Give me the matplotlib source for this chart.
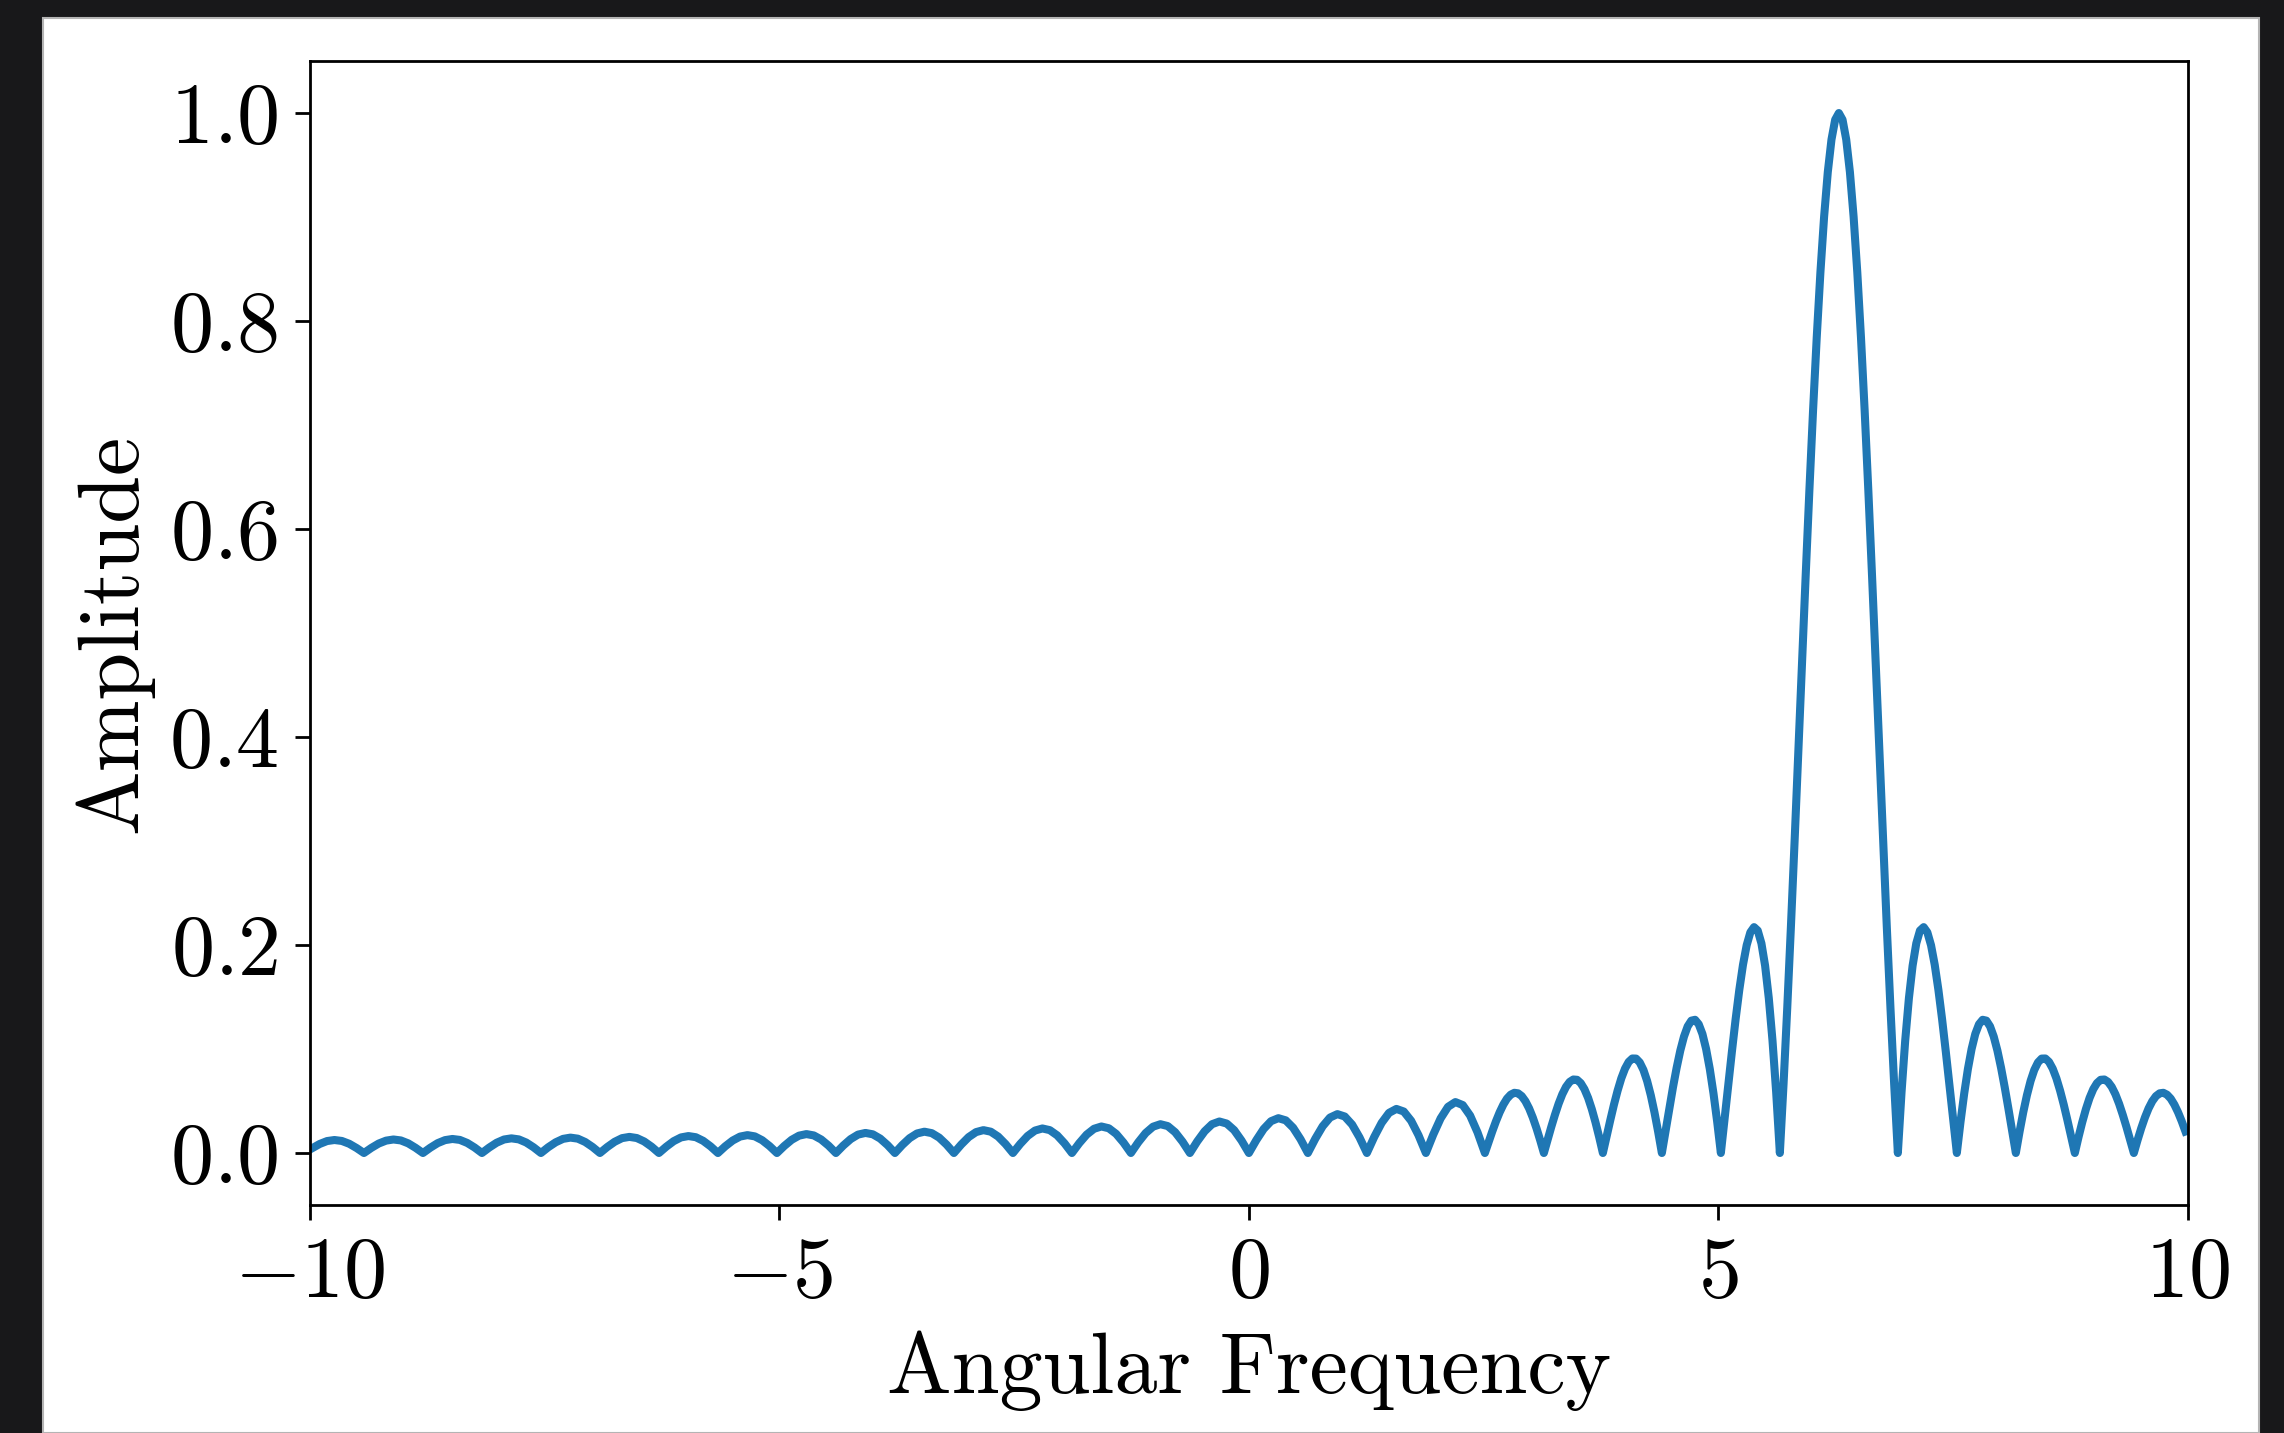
import numpy as np
import matplotlib
matplotlib.use("Agg")
import matplotlib.pyplot as plt
from matplotlib.patches import Rectangle

# amplitude samples, left part (one lobe per row)
amp_far = [
    0.0047, 0.0087, 0.0115, 0.0125, 0.0116, 0.0089, 0.0048, 0.0,
    0.0049, 0.0091, 0.0119, 0.0130, 0.0121, 0.0093, 0.0050, 0.0,
    0.0051, 0.0095, 0.0124, 0.0135, 0.0126, 0.0097, 0.0053, 0.0,
    0.0053, 0.0099, 0.0130, 0.0141, 0.0131, 0.0101, 0.0055, 0.0,
    0.0056, 0.0103, 0.0136, 0.0148, 0.0138, 0.0106, 0.0058, 0.0,
    0.0058, 0.0108, 0.0143, 0.0155, 0.0144, 0.0111, 0.0061, 0.0,
    0.0061, 0.0114, 0.0150, 0.0163, 0.0152, 0.0117, 0.0064, 0.0,
    0.0065, 0.0120, 0.0158, 0.0172, 0.0160, 0.0123, 0.0067, 0.0,
    0.0068, 0.0127, 0.0167, 0.0182, 0.0169, 0.0130, 0.0071, 0.0,
    0.0072, 0.0134, 0.0177, 0.0193, 0.0180, 0.0139, 0.0076, 0.0,
    0.0077, 0.0143, 0.0188, 0.0205, 0.0191, 0.0148, 0.0081, 0.0,
    0.0082, 0.0153, 0.0201, 0.0220, 0.0205, 0.0158, 0.0086, 0.0,
    0.0088, 0.0164, 0.0216, 0.0236, 0.0220, 0.0170, 0.0093, 0.0,
    0.0095, 0.0177, 0.0233, 0.0255, 0.0238, 0.0184, 0.0100, 0.0,
    0.0103, 0.0192, 0.0253, 0.0277, 0.0259, 0.0200, 0.0109, 0.0,
    0.0112, 0.0209, 0.0277, 0.0303, 0.0283, 0.0220, 0.0120, 0.0,
    0.0123, 0.0231, 0.0306, 0.0335, 0.0314, 0.0243, 0.0133, 0.0,
    0.0137, 0.0257, 0.0341, 0.0374, 0.0351, 0.0273, 0.0150, 0.0,
    0.0155, 0.0290, 0.0386, 0.0424, 0.0399, 0.0310, 0.0171, 0.0,
    0.0177, 0.0333, 0.0444, 0.0490, 0.0461, 0.0360, 0.0199, 0.0,
]
far_range = (-9.9746, 2.5133)

# right part, sampled twice as densely around the main lobe
amp_near = [
    0.0105, 0.0207, 0.0304, 0.0391, 0.0465, 0.0523, 0.0561, 0.0579,
    0.0574, 0.0547, 0.0498, 0.0429, 0.0341, 0.0238, 0.0123, 0.0,
    0.0126, 0.0250, 0.0367, 0.0474, 0.0565, 0.0636, 0.0684, 0.0707,
    0.0704, 0.0672, 0.0614, 0.0530, 0.0422, 0.0295, 0.0153, 0.0,
    0.0158, 0.0314, 0.0464, 0.0600, 0.0718, 0.0811, 0.0876, 0.0909,
    0.0908, 0.0871, 0.0799, 0.0693, 0.0555, 0.0390, 0.0203, 0.0,
    0.0211, 0.0424, 0.0629, 0.0818, 0.0985, 0.1120, 0.1218, 0.1273,
    0.1281, 0.1238, 0.1145, 0.1000, 0.0808, 0.0573, 0.0301, 0.0,
    0.0321, 0.0650, 0.0976, 0.1286, 0.1568, 0.1810, 0.1998, 0.2122,
    0.2172, 0.2139, 0.2016, 0.1801, 0.1489, 0.1083, 0.0584, 0.0,
    0.0662, 0.1392, 0.2177, 0.3001, 0.3850, 0.4705, 0.5550, 0.6366,
    0.7136, 0.7842, 0.8469, 0.9003, 0.9432, 0.9745, 0.9936, 1.0,
    0.9936, 0.9745, 0.9432, 0.9003, 0.8469, 0.7842, 0.7136, 0.6366,
    0.5550, 0.4705, 0.3850, 0.3001, 0.2177, 0.1392, 0.0662, 0.0,
    0.0584, 0.1083, 0.1489, 0.1801, 0.2016, 0.2139, 0.2172, 0.2122,
    0.1998, 0.1810, 0.1568, 0.1286, 0.0976, 0.0650, 0.0321, 0.0,
    0.0301, 0.0573, 0.0808, 0.1000, 0.1145, 0.1238, 0.1281, 0.1273,
    0.1218, 0.1120, 0.0985, 0.0818, 0.0629, 0.0424, 0.0211, 0.0,
    0.0203, 0.0390, 0.0555, 0.0693, 0.0799, 0.0871, 0.0908, 0.0909,
    0.0876, 0.0811, 0.0718, 0.0600, 0.0464, 0.0314, 0.0158, 0.0,
    0.0153, 0.0295, 0.0422, 0.0530, 0.0614, 0.0672, 0.0704, 0.0707,
    0.0684, 0.0636, 0.0565, 0.0474, 0.0367, 0.0250, 0.0126, 0.0,
    0.0123, 0.0238, 0.0341, 0.0429, 0.0498, 0.0547, 0.0574, 0.0579,
    0.0561, 0.0523, 0.0465, 0.0391, 0.0304, 0.0207,
]
near_range = (2.5525, 9.9746)
xlim = (-10, 10)

plt.rcParams['font.family'] = 'serif'
plt.rcParams['font.serif'] = ['cmr10']
plt.rcParams['mathtext.fontset'] = 'cm'
plt.rcParams['axes.formatter.use_mathtext'] = True
plt.rcParams['axes.unicode_minus'] = True

FS = 62

fig = plt.figure(figsize=(22.84, 14.33), dpi=100, facecolor='#18181a')

# white page on the dark backdrop
fig.patches.append(Rectangle((0.0188, 0.0), 0.9702, 0.9874, transform=fig.transFigure,
                             facecolor='white', edgecolor='#b4b4b4', lw=1.5, zorder=-10))

ax = fig.add_axes([0.1357, 0.1591, 0.8222, 0.7983])

freq = np.concatenate([np.linspace(*far_range, len(amp_far)),
                       np.linspace(*near_range, len(amp_near))])
amp = amp_far + amp_near
ax.plot(freq, amp, color='#1f77b4', lw=5.8)

ax.set_xlim(*xlim)
ax.set_xlabel('Angular Frequency', fontsize=FS, labelpad=12)
ax.set_ylabel('Amplitude', fontsize=FS, labelpad=11)

ax.tick_params(labelsize=FS, length=10.8, width=2, pad=12)
for s in ax.spines.values():
    s.set_linewidth(2)

fig.savefig('out.png', dpi=100, facecolor=fig.get_facecolor())
